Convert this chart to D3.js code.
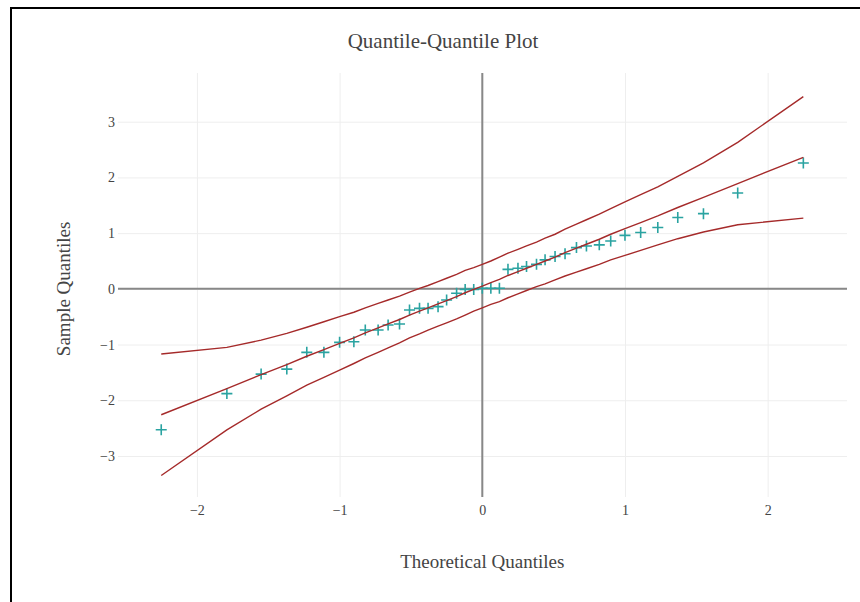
<!DOCTYPE html>
<html>
<head>
<meta charset="utf-8">
<script src="https://cdn.jsdelivr.net/npm/d3@7"></script>
<style>
  html, body { margin: 0; padding: 0; background: #fff; overflow: hidden; }
  svg { display: block; }
  .tick text { font-family: "Liberation Serif", "Times New Roman", serif; font-size: 14px; fill: #444; }
</style>
</head>
<body>
<svg></svg>
<script>
// QQ PLOT

var theoretical = [-2.25, -1.79, -1.55, -1.37, -1.23, -1.11, -1.00, -0.90, -0.82, -0.73,
  -0.66, -0.58, -0.51, -0.44, -0.38, -0.31, -0.25, -0.18, -0.12, -0.06,
  0.00, 0.06, 0.12, 0.18, 0.25, 0.31, 0.38, 0.44, 0.51, 0.58,
  0.66, 0.73, 0.82, 0.90, 1.00, 1.11, 1.23, 1.37, 1.55, 1.79, 2.25];

// Sample quantiles (the "+" markers)
var sample = [-2.53, -1.88, -1.53, -1.44, -1.14, -1.14, -0.96, -0.95, -0.74, -0.74,
  -0.65, -0.63, -0.38, -0.35, -0.35, -0.32, -0.20, -0.08, -0.01, -0.01,
  0.01, 0.01, 0.01, 0.35, 0.37, 0.40, 0.44, 0.52, 0.58, 0.63,
  0.74, 0.77, 0.79, 0.86, 0.96, 1.01, 1.10, 1.28, 1.35, 1.72, 2.26];

// Fitted reference line
var fitted = [-2.26, -1.79, -1.54, -1.36, -1.21, -1.09, -0.98, -0.88, -0.79, -0.70,
  -0.63, -0.55, -0.47, -0.40, -0.34, -0.27, -0.21, -0.14, -0.07, -0.01,
  0.05, 0.11, 0.17, 0.24, 0.31, 0.37, 0.44, 0.50, 0.57, 0.65,
  0.73, 0.80, 0.89, 0.98, 1.08, 1.19, 1.31, 1.46, 1.64, 1.89, 2.36];

// Confidence envelope
var upper = [-1.17, -1.05, -0.92, -0.80, -0.69, -0.59, -0.50, -0.42, -0.34, -0.26,
  -0.20, -0.13, -0.06, 0.01, 0.06, 0.13, 0.19, 0.26, 0.33, 0.38,
  0.44, 0.50, 0.57, 0.64, 0.71, 0.77, 0.84, 0.91, 0.98, 1.07,
  1.16, 1.24, 1.34, 1.44, 1.56, 1.69, 1.83, 2.02, 2.26, 2.63, 3.45];
var lower = [-3.35, -2.53, -2.16, -1.92, -1.73, -1.59, -1.46, -1.34, -1.24, -1.14,
  -1.06, -0.97, -0.88, -0.81, -0.74, -0.67, -0.61, -0.54, -0.47, -0.40,
  -0.34, -0.28, -0.23, -0.16, -0.09, -0.03, 0.04, 0.09, 0.16, 0.23,
  0.30, 0.36, 0.44, 0.52, 0.60, 0.69, 0.79, 0.90, 1.02, 1.15, 1.27];

var xTicks = [-2, -1, 0, 1, 2];
var yTicks = [-3, -2, -1, 0, 1, 2, 3];

var svgWidth = 860, svgHeight = 602;
var margin = {top: 73, right: 13, bottom: 105, left: 118};
var width = svgWidth - margin.left - margin.right;
var height = svgHeight - margin.top - margin.bottom;

var svg = d3.select("svg")
  .attr("width", svgWidth)
  .attr("height", svgHeight);

// frame: only the left and top edges are in the picture
svg.append("path")
  .attr("d", "M11," + svgHeight + "V8H" + svgWidth)
  .attr("fill", "none")
  .attr("stroke", "#000")
  .attr("stroke-width", 2);

var g = svg.append("g")
  .attr("transform", "translate(" + margin.left + "," + margin.top + ")");

var xScale = d3.scaleLinear().domain([-2.553, 2.556]).range([0, width]);
var yScale = d3.scaleLinear().domain([-3.736, 3.874]).range([height, 0]);

// grid
g.append("g")
  .call(d3.axisBottom(xScale).tickValues(xTicks).tickSize(height).tickFormat(""))
  .call(function(a) { a.select(".domain").remove(); })
  .selectAll("line").attr("stroke", "#eee");

g.append("g")
  .call(d3.axisLeft(yScale).tickValues(yTicks).tickSize(-width).tickFormat(""))
  .call(function(a) { a.select(".domain").remove(); })
  .selectAll("line").attr("stroke", "#eee");

// zero lines
g.append("line")
  .attr("x1", 0).attr("x2", width)
  .attr("y1", yScale(0)).attr("y2", yScale(0))
  .attr("stroke", "#888").attr("stroke-width", 2);
g.append("line")
  .attr("x1", xScale(0)).attr("x2", xScale(0))
  .attr("y1", 0).attr("y2", height)
  .attr("stroke", "#888").attr("stroke-width", 2);

// tick labels
var fmt = function(d) { return d < 0 ? "\u2212" + Math.abs(d) : String(d); };

g.append("g")
  .attr("transform", "translate(0," + height + ")")
  .call(d3.axisBottom(xScale).tickValues(xTicks).tickSize(0).tickPadding(8).tickFormat(fmt))
  .call(function(a) { a.select(".domain").remove(); });

g.append("g")
  .call(d3.axisLeft(yScale).tickValues(yTicks).tickSize(0).tickPadding(3).tickFormat(fmt))
  .call(function(a) { a.select(".domain").remove(); });

// markers
var points = theoretical.map(function(d, i) { return [d, sample[i]]; });

g.selectAll(".pt")
  .data(points)
  .enter()
  .append("path")
  .attr("class", "pt")
  .attr("transform", function(d) { return "translate(" + xScale(d[0]) + "," + yScale(d[1]) + ")"; })
  .attr("d", "M-5.5,0H5.5M0,-5.5V5.5")
  .attr("stroke", "#2aa3a1")
  .attr("stroke-width", 1.6)
  .attr("fill", "none");

// fitted line and envelope
var line = d3.line()
  .x(function(d) { return xScale(d[0]); })
  .y(function(d) { return yScale(d[1]); });

[fitted, upper, lower].forEach(function(series) {
  g.append("path")
    .datum(theoretical.map(function(d, i) { return [d, series[i]]; }))
    .attr("d", line)
    .attr("fill", "none")
    .attr("stroke", "#a52a2a")
    .attr("stroke-width", 1.4);
});

// titles
svg.append("text")
  .attr("x", 443).attr("y", 48)
  .attr("text-anchor", "middle")
  .style("font-family", "'Liberation Serif', serif")
  .style("font-size", "21px")
  .style("fill", "#444")
  .text("Quantile-Quantile Plot");

svg.append("text")
  .attr("x", margin.left + xScale(0)).attr("y", 568)
  .attr("text-anchor", "middle")
  .style("font-family", "'Liberation Serif', serif")
  .style("font-size", "19px")
  .style("fill", "#444")
  .text("Theoretical Quantiles");

svg.append("text")
  .attr("transform", "translate(70," + (margin.top + yScale(0)) + ") rotate(-90)")
  .attr("text-anchor", "middle")
  .style("font-family", "'Liberation Serif', serif")
  .style("font-size", "19px")
  .style("fill", "#444")
  .text("Sample Quantiles");
</script>
</body>
</html>
